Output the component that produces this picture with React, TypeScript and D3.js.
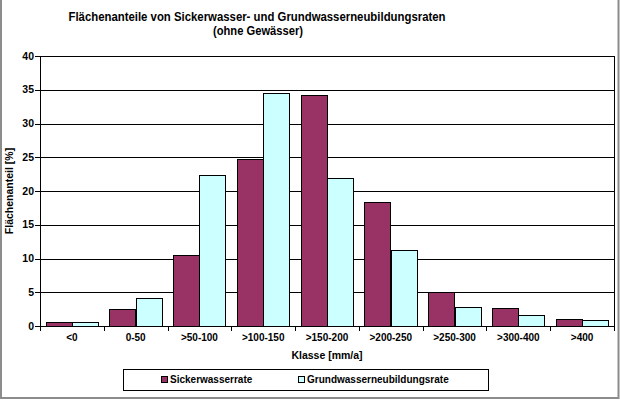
import React from 'react';
import * as d3 from 'd3';

// Flächenanteile [%] je Klasse
const categories = ['<0', '0-50', '>50-100', '>100-150', '>150-200', '>200-250', '>250-300', '>300-400', '>400'];
const sickerwasser = [0.6, 2.5, 10.5, 24.7, 34.2, 18.4, 5.0, 2.6, 1.0];
const grundwasser = [0.6, 4.1, 22.3, 34.5, 21.9, 11.2, 2.8, 1.6, 0.85];
const seriesNames = ['Sickerwasserrate', 'Grundwasserneubildungsrate'];
const yTicks = [0, 5, 10, 15, 20, 25, 30, 35, 40];

const W = 620;
const H = 400;
const plot = { left: 40, right: 614, top: 56, bottom: 326 };
const colors = ['#993366', '#CCFFFF'];
const font = '"Liberation Sans", Arial, sans-serif';

const App: React.FC = () => {
  const x = d3.scaleBand<string>()
    .domain(categories)
    .range([plot.left, plot.right])
    .paddingInner(0.175)
    .paddingOuter(0.0875);
  const xs = d3.scaleBand<string>()
    .domain(seriesNames)
    .range([0, x.bandwidth()]);
  const y = d3.scaleLinear().domain([0, 40]).range([plot.bottom, plot.top]);

  const step = x.step();
  const series = [sickerwasser, grundwasser];

  return (
    <svg width={W} height={H} style={{ position: 'absolute', left: 0, top: 0, background: '#fff' }} fontFamily={font}>
      {/* chart border */}
      <path d={`M1,0 V398 H618.5 V0`} fill="none" stroke="#8c8c8c" strokeWidth={2} />

      {/* title */}
      <text x={257} y={20.5} textAnchor="middle" fontSize={13.5} fontWeight="bold" textLength={377} lengthAdjust="spacingAndGlyphs">
        Flächenanteile von Sickerwasser- und Grundwasserneubildungsraten
      </text>
      <text x={258} y={34.5} textAnchor="middle" fontSize={13.5} fontWeight="bold" textLength={90} lengthAdjust="spacingAndGlyphs">
        (ohne Gewässer)
      </text>

      {/* gridlines */}
      {yTicks.map(t => (
        <line key={t} x1={plot.left} x2={plot.right} y1={Math.round(y(t)) + 0.5} y2={Math.round(y(t)) + 0.5} stroke="#000" strokeWidth={1} />
      ))}
      <line x1={plot.right + 0.5} x2={plot.right + 0.5} y1={plot.top} y2={plot.bottom} stroke="#000" />

      {/* bars */}
      {series.map((vals, si) => vals.map((v, i) => {
        const bx = (x(categories[i]) ?? 0) + (xs(seriesNames[si]) ?? 0);
        return (
          <rect key={`${si}-${i}`}
            x={Math.round(bx) + 0.5}
            y={Math.round(y(v)) + 0.5}
            width={Math.round(xs.bandwidth())}
            height={Math.round(y(0)) - Math.round(y(v))}
            fill={colors[si]} stroke="#000" strokeWidth={1} />
        );
      }))}

      {/* axes */}
      <line x1={plot.left + 0.5} x2={plot.left + 0.5} y1={plot.top} y2={plot.bottom + 1} stroke="#000" />
      <line x1={plot.left} x2={plot.right + 1} y1={plot.bottom + 0.5} y2={plot.bottom + 0.5} stroke="#000" />
      {yTicks.map(t => (
        <g key={`yt${t}`}>
          <line x1={plot.left - 5} x2={plot.left} y1={Math.round(y(t)) + 0.5} y2={Math.round(y(t)) + 0.5} stroke="#000" />
          <text x={plot.left - 6} y={y(t)} dy="0.35em" textAnchor="end" fontSize={10.5} fontWeight="bold">{t}</text>
        </g>
      ))}
      {d3.range(categories.length + 1).map(i => (
        <line key={`xt${i}`} x1={Math.round(plot.left + i * step) + 0.5} x2={Math.round(plot.left + i * step) + 0.5}
          y1={plot.bottom} y2={plot.bottom + 5} stroke="#000" />
      ))}
      {categories.map(c => (
        <text key={c} x={(x(c) ?? 0) + x.bandwidth() / 2} y={341} textAnchor="middle" fontSize={10} fontWeight="bold">{c}</text>
      ))}

      {/* axis titles */}
      <text x={327} y={359} textAnchor="middle" fontSize={10.5} fontWeight="bold">Klasse [mm/a]</text>
      <text transform={`translate(13,191) rotate(-90)`} textAnchor="middle" fontSize={10.5} fontWeight="bold">Flächenanteil [%]</text>

      {/* legend */}
      <rect x={123.5} y={369.5} width={365} height={21} fill="#fff" stroke="#000" />
      {seriesNames.map((n, i) => {
        const lx = i === 0 ? 161 : 298;
        return (
          <g key={n}>
            <rect x={lx + 0.5} y={376.5} width={6} height={6} fill={colors[i]} stroke="#000" />
            <text x={lx + 9} y={383} fontSize={10} fontWeight="bold">{n}</text>
          </g>
        );
      })}
    </svg>
  );
};

export default App;
